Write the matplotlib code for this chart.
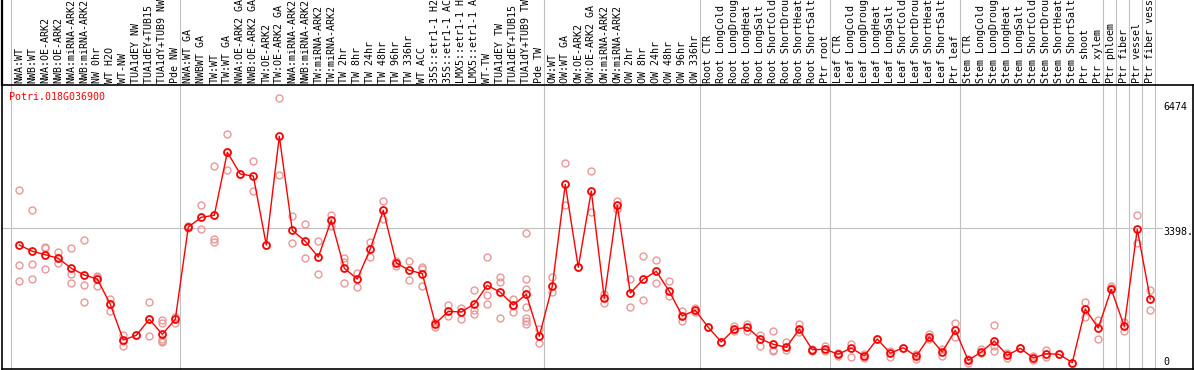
import matplotlib
matplotlib.use("Agg")
import matplotlib.pyplot as plt
import matplotlib.transforms as mtransforms

labels = [
    "NWA:WT", "NWB:WT", "NWA:OE-ARK2", "NWB:OE-ARK2", "NWA:miRNA-ARK2", "NWB:miRNA-ARK2",
    "NW 0hr", "WT H2O", "WT-NW", "TUA1dEY NW", "TUA1dEY+TUB15 NW", "TUA1dY+TUB9 NW", "Pde NW",
    "NWA:WT GA", "NWBWT GA", "TW:WT", "TW:WT GA", "NWA:OE-ARK2 GA", "NWB:OE-ARK2 GA",
    "TW:OE-ARK2", "TW:OE-ARK2 GA", "NWA:miRNA-ARK2", "NWB:miRNA-ARK2", "TW:miRNA-ARK2",
    "TW:miRNA-ARK2", "TW 2hr", "TW 8hr", "TW 24hr", "TW 48hr", "TW 96hr", "TW 336hr", "WT ACC",
    "35S::etr1-1 H2O", "35S::etr1-1 ACC", "LMX5::etr1-1 H2O", "LMX5::etr1-1 ACC", "WT-TW",
    "TUA1dEY TW", "TUA1dEY+TUB15 TW", "TUA1dY+TUB9 TW", "Pde TW",
    "OW:WT", "OW:WT GA", "OW:OE-ARK2", "OW:OE-ARK2 GA", "OW:miRNA-ARK2", "OW:miRNA-ARK2",
    "OW 2hr", "OW 8hr", "OW 24hr", "OW 48hr", "OW 96hr", "OW 336hr",
    "Root CTR", "Root LongCold", "Root LongDrought", "Root LongHeat", "Root LongSalt",
    "Root ShortCold", "Root ShortDrought", "Root ShortHeat", "Root ShortSalt", "Ptr root",
    "Leaf CTR", "Leaf LongCold", "Leaf LongDrought", "Leaf LongHeat", "Leaf LongSalt",
    "Leaf ShortCold", "Leaf ShortDrought", "Leaf ShortHeat", "Leaf ShortSalt", "Ptr leaf",
    "Stem CTR", "Stem LongCold", "Stem LongDrought", "Stem LongHeat", "Stem LongSalt",
    "Stem ShortCold", "Stem ShortDrought", "Stem ShortHeat", "Stem ShortSalt", "Ptr shoot",
    "Ptr xylem", "Ptr phloem", "Ptr fiber", "Ptr vessel", "Ptr fiber vessel",
]

means = [
    2987, 2838, 2757, 2672, 2435, 2276, 2181, 1581, 735, 846, 1226, 870, 1226,
    3414, 3644, 3692, 5185, 4671, 4623, 2987, 5565, 3336, 3075, 2703, 3573, 2435, 2181,
    2893, 3810, 2561, 2388, 2307, 1121, 1415, 1399, 1589, 2032, 1866, 1565, 1819, 823,
    2008, 4427, 2459, 4268, 1724, 3929, 1849, 2174, 2364, 1890, 1304, 1439,
    1036, 688, 989, 1036, 759, 633, 562, 989, 505, 515,
    396, 545, 356, 759, 420, 552, 349, 806, 450, 965,
    254, 450, 711, 372, 538, 308, 410, 396, 197, 1470, 1020,
    1937, 1060, 3360, 1707,
]

reps = [
    [4292, 2513, 2134], [3817, 2537, 2174], [2947, 2909, 2411], [2814, 2554, 2672],
    [2916, 2293, 2079], [3099, 2046, 1636], [2252, 2222, 2008], [1707, 1581, 1423],
    [854, 718, 600], [846], [1636, 1226, 823], [1209, 1131, 752, 718, 688], [1287, 1145],
    [3438, 3391], [3929, 3374], [4853, 3137, 3066], [5612, 4759, 5185], [4671],
    [4972, 4261], [2987], [6474, 4640], [3675, 3028], [3478, 2672], [3089, 2300],
    [3706, 3445], [2686, 2577, 2079], [2331, 1985], [3059, 2696], [4024, 3597],
    [2615, 2497], [2601, 2150], [2473, 2411, 2008], [1169, 1036], [1565, 1311],
    [1494, 1226], [1913, 1439, 1359], [2703, 1802, 1596], [2236, 2103, 1250],
    [1707, 1548, 1406], [3265, 2174, 1951, 1525, 1264, 1186, 1121], [989, 657],
    [2222, 1880], [4925, 3929], [2459], [4742, 3770], [1826, 1605], [4024, 3841],
    [2181, 1510], [2727, 1676], [2625, 2079], [2127, 1771], [1423, 1193], [1494, 1392],
    [1036], [688], [1074, 941], [1114, 948], [854, 586], [948, 474, 498], [688, 491],
    [1121, 918], [522, 474], [600, 481],
    [420, 363], [640, 332], [403, 301], [759], [481, 339], [552], [396, 292], [870, 752],
    [514, 356], [1138, 813],
    [277, 197], [514, 420], [1084, 586, 467], [420, 315], [538], [363, 261], [498, 325],
    [396], [197], [1636, 1470, 1280], [1209, 759],
    [2022, 1968], [1155, 956], [3692, 3042], [1913, 1439],
]

group_starts = [0, 13, 41, 53, 63, 73, 84, 85, 86, 87, 88]
ref_value = 3398
ymax_label = "6474"

mono = "DejaVu Sans Mono"
fs = 7.2

fig = plt.figure(figsize=(11.94, 3.70), dpi=100)
ax = fig.add_axes([1.5 / 1194, 0.7 / 370, 1191 / 1194, 284.3 / 370])

x = list(range(len(means)))
ax.set_xlim(-1.37, 90.25)
ax.set_ylim(40, 6781)

# group separators, running up through the label strip
for g in group_starts:
    ax.axvline(g - 0.64, ymin=0, ymax=1.31, color="#c0c0c0", lw=0.8,
               clip_on=False, zorder=1)
ax.axhline(ref_value, xmin=0, xmax=0.9744, color="#c0c0c0", lw=0.8, zorder=1)

# replicate samples
rx, ry = [], []
for i, r in enumerate(reps):
    for v in r:
        rx.append(i)
        ry.append(v)
ax.plot(rx, ry, linestyle="none", marker="o", ms=5, mfc="none",
        mec="#e89898", mew=1.0, zorder=2)

# mean line
ax.plot(x, means, color="red", lw=1.0, marker="o", ms=5, mfc="none",
        mec="red", mew=1.3, zorder=3)

# rotated sample labels above the plot
trans = mtransforms.blended_transform_factory(ax.transData, ax.transAxes)
for i, lab in enumerate(labels):
    ax.text(i, 1 + 2 / 284.3, lab, rotation=90, ha="center", va="bottom",
            fontsize=fs, family=mono, transform=trans, clip_on=False)

ax.text(0.00655, 0.9588, "Potri.018G036900", color="red", fontsize=fs,
        family=mono, ha="left", va="center", transform=ax.transAxes)

ax.text(0.9757, 0.9237, ymax_label, fontsize=fs, family=mono, ha="left",
        va="center", transform=ax.transAxes)
ax.text(0.9757, 0.4812, "3398.", fontsize=fs, family=mono, ha="left",
        va="center", transform=ax.transAxes)
ax.text(0.9757, 0.0274, "0", fontsize=fs, family=mono, ha="left",
        va="center", transform=ax.transAxes)

ax.set_xticks([])
ax.set_yticks([])
for s in ax.spines.values():
    s.set_color("black")
    s.set_linewidth(1.2)
ax.spines["left"].set_bounds(40, 6781)
# left border continues to the top of the figure
ax.plot([0, 0], [1, 1.31], color="black", lw=1.6,
        transform=ax.transAxes, clip_on=False)

fig.savefig("out.png", dpi=100)
